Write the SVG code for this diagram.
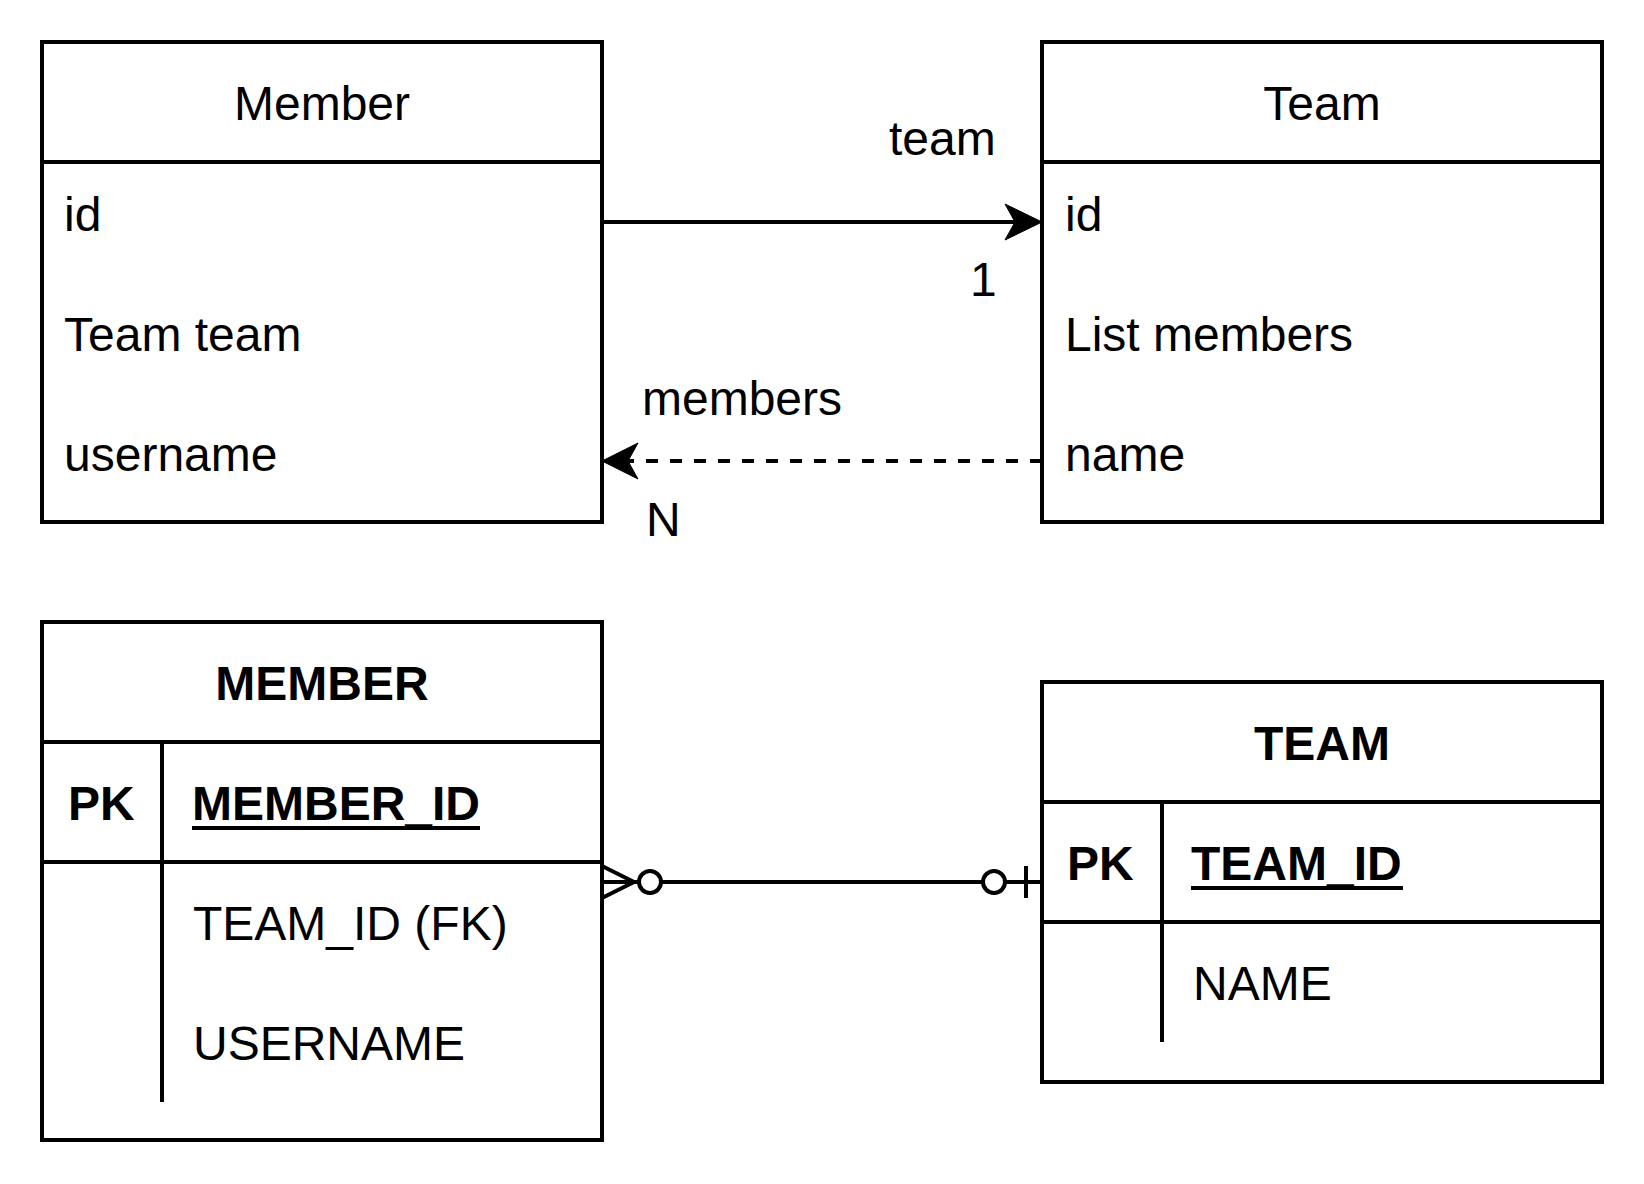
<svg xmlns="http://www.w3.org/2000/svg" width="1644" height="1184" viewBox="0 0 1644 1184">
<style>
.box{fill:#fff;stroke:#000;stroke-width:4}
.ln{stroke:#000;stroke-width:4;fill:none}
.t{font-family:"Liberation Sans",Arial,Helvetica,sans-serif;font-size:48px;fill:#000}
.c{text-anchor:middle}
.b{font-weight:bold}
</style>
<rect x="0" y="0" width="1644" height="1184" fill="#fff"/>
<g id="member-class">
<rect class="box" x="42" y="42" width="560" height="480"/>
<line class="ln" x1="42" y1="162" x2="602" y2="162"/>
<text class="t c" x="322" y="120">Member</text>
<text class="t" x="64" y="231">id</text>
<text class="t" x="64" y="351">Team team</text>
<text class="t" x="64" y="471">username</text>
</g>
<g id="team-class">
<rect class="box" x="1042" y="42" width="560" height="480"/>
<line class="ln" x1="1042" y1="162" x2="1602" y2="162"/>
<text class="t c" x="1322" y="120">Team</text>
<text class="t" x="1065" y="231">id</text>
<text class="t" x="1065" y="351">List members</text>
<text class="t" x="1065" y="471">name</text>
</g>
<g id="member-table">
<rect class="box" x="42" y="622" width="560" height="518"/>
<line class="ln" x1="42" y1="742" x2="602" y2="742"/>
<line class="ln" x1="42" y1="862" x2="602" y2="862"/>
<line class="ln" x1="162" y1="742" x2="162" y2="1102"/>
<text class="t b c" x="322" y="700">MEMBER</text>
<text class="t b" x="68" y="820">PK</text>
<text class="t b" x="192" y="820">MEMBER_ID</text>
<line class="ln" x1="192" y1="828" x2="480" y2="828"/>
<text class="t" x="193" y="940">TEAM_ID (FK)</text>
<text class="t" x="193" y="1060">USERNAME</text>
</g>
<g id="team-table">
<rect class="box" x="1042" y="682" width="560" height="400"/>
<line class="ln" x1="1042" y1="802" x2="1602" y2="802"/>
<line class="ln" x1="1042" y1="922" x2="1602" y2="922"/>
<line class="ln" x1="1162" y1="802" x2="1162" y2="1042"/>
<text class="t b c" x="1322" y="760">TEAM</text>
<text class="t b" x="1067" y="880">PK</text>
<text class="t b" x="1191" y="880">TEAM_ID</text>
<line class="ln" x1="1191" y1="888" x2="1403" y2="888"/>
<text class="t" x="1193" y="1000">NAME</text>
</g>
<g id="connectors">
<line class="ln" x1="602" y1="222" x2="1016" y2="222"/>
<path d="M1042,222 L1005,204 L1015,222 L1005,240 Z" fill="#000" stroke="#000" stroke-width="1"/>
<line class="ln" x1="1042" y1="461" x2="628" y2="461" stroke-dasharray="12 12"/>
<path d="M602,461 L638,443 L628,461 L638,479 Z" fill="#000" stroke="#000" stroke-width="1"/>
<text class="t" x="889" y="155">team</text>
<text class="t" x="970" y="296">1</text>
<text class="t" x="642" y="415">members</text>
<text class="t" x="646" y="536">N</text>
<line class="ln" x1="602" y1="882" x2="1042" y2="882"/>
<path class="ln" d="M602,866 L634,882 L602,898"/>
<circle cx="650" cy="882" r="11" fill="#fff" stroke="#000" stroke-width="4"/>
<circle cx="994" cy="882" r="11" fill="#fff" stroke="#000" stroke-width="4"/>
<line class="ln" x1="1026" y1="866" x2="1026" y2="898"/>
</g>
</svg>
